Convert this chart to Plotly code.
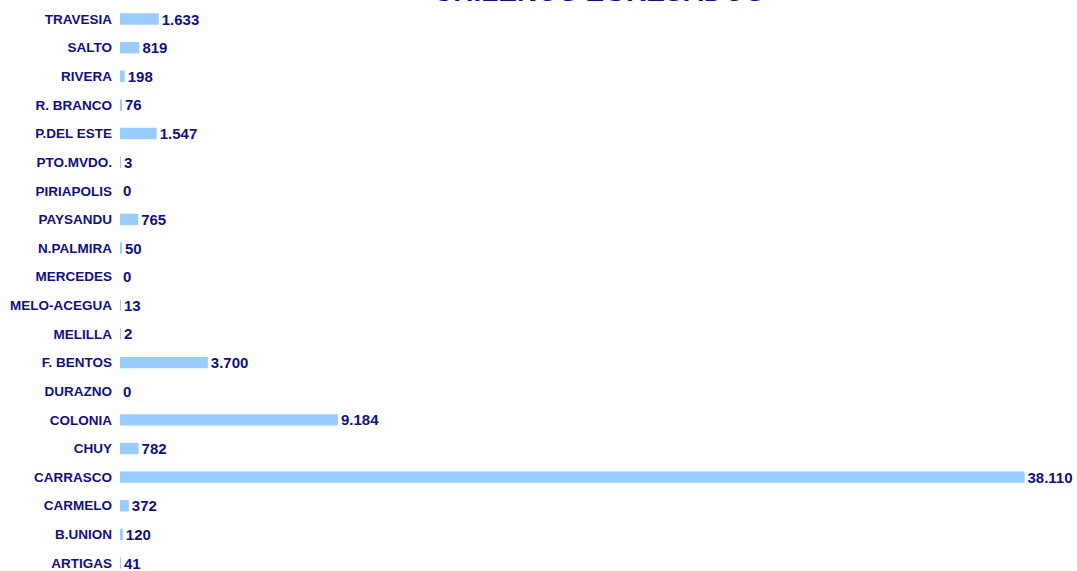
import plotly.graph_objects as go

categories = ["ARTIGAS", "B.UNION", "CARMELO", "CARRASCO", "CHUY", "COLONIA", "DURAZNO",
              "F. BENTOS", "MELILLA", "MELO-ACEGUA", "MERCEDES", "N.PALMIRA", "PAYSANDU",
              "PIRIAPOLIS", "PTO.MVDO.", "P.DEL ESTE", "R. BRANCO", "RIVERA", "SALTO", "TRAVESIA"]
values = [41, 120, 372, 38110, 782, 9184, 0, 3700, 2, 13, 0, 50, 765, 0, 3, 1547, 76, 198, 819, 1633]
title_text = "CHILENOS EGRESADOS"

navy = "#10107f"

fig = go.Figure(go.Bar(
    x=values, y=categories, orientation="h",
    marker=dict(color="#99ccff", line=dict(width=0)),
    texttemplate="%{x:,}", textposition="outside", cliponaxis=False,
    constraintext="none",
    textfont=dict(family="Liberation Sans, Arial", size=15, color=navy, weight="bold"),
    hoverinfo="skip",
))

fig.update_layout(
    width=1077, height=571,
    margin=dict(l=120, r=0, t=0, b=0, autoexpand=False),
    paper_bgcolor="white", plot_bgcolor="white",
    separators=",.",
    bargap=0.6,
    showlegend=False,
    xaxis=dict(range=[0, 40322], visible=False, showgrid=False, zeroline=False, automargin=False),
    yaxis=dict(range=[-0.279, 19.665], showgrid=False, zeroline=False, showline=False,
               ticks="", ticklabelstandoff=7, automargin=False,
               tickfont=dict(family="Liberation Sans, Arial", size=13.5, color=navy, weight="bold")),
    annotations=[dict(text=title_text, xref="paper", yref="paper", x=0.5, y=1,
                      xanchor="center", yanchor="bottom", yshift=-9, showarrow=False,
                      font=dict(family="Liberation Sans, Arial", size=28, color=navy, weight="bold"))],
)

fig.write_html("out.html", config={"displayModeBar": False},
               post_script="document.body.style.margin='0';document.body.style.overflow='hidden';")
